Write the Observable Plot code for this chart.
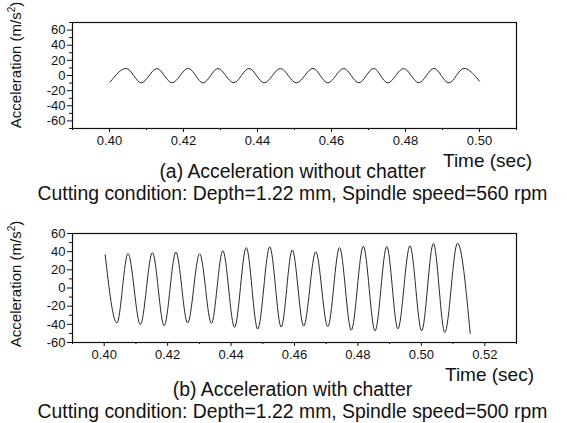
<!DOCTYPE html>
<html><head><meta charset="utf-8">
<script src="https://cdn.jsdelivr.net/npm/d3@7"></script>
<script src="https://cdn.jsdelivr.net/npm/@observablehq/plot@0.6"></script>
<style>
body{margin:0;background:#fff;}
#wrap{position:relative;width:567px;height:423px;overflow:hidden;font-family:"Liberation Sans",Arial,sans-serif;color:#111;}
#wrap svg{position:absolute;left:0;}
.t{position:absolute;white-space:nowrap;line-height:1;}
.ylab{position:absolute;white-space:nowrap;line-height:1;font-size:15px;transform:translate(-50%,-50%) rotate(-90deg);}
.ylab sup{font-size:10px;vertical-align:6px;line-height:0;}
.cap{position:absolute;left:9px;width:567px;text-align:center;font-size:19.4px;line-height:1;white-space:nowrap;}
</style></head><body><div id="wrap"></div>
<script>
// (a) Acceleration without chatter — peaks/troughs
const timeA = [0.4002,0.4045,0.4086,0.4128,0.4169,0.4213,0.4253,0.4293,0.4336,0.4377,0.4418,0.4462,0.4505,0.4550,0.4590,0.4633,0.4674,0.4714,0.4752,0.4795,0.4836,0.4877,0.4917,0.4958,0.5000];
const accelA = [-8.6,9.3,-9.7,9.2,-9.6,9.4,-9.7,9.2,-9.6,9.3,-9.7,9.2,-9.6,9.3,-9.7,9.2,-9.6,9.3,-9.7,9.2,-9.6,9.3,-9.7,9.4,-7.6];
// (b) Acceleration with chatter
const timeB = [0.4003,0.4040,0.4075,0.4114,0.4152,0.4189,0.4226,0.4263,0.4301,0.4338,0.4374,0.4411,0.4448,0.4484,0.4522,0.4558,0.4593,0.4629,0.4667,0.4705,0.4742,0.4779,0.4817,0.4854,0.4891,0.4926,0.4964,0.5001,0.5038,0.5074,0.5114,0.5154];
const accelB = [36.5,-38.5,38.0,-40.4,38.9,-41.5,39.6,-38.5,37.7,-38.9,41.1,-43.4,44.5,-45.3,45.3,-43.0,41.9,-41.9,40.0,-42.6,44.5,-46.4,46.0,-47.2,45.7,-44.9,46.4,-47.2,49.1,-49.0,49.4,-50.0];

const xTicksA = [0.40,0.42,0.44,0.46,0.48,0.50];
const xMinorA = [0.39,0.41,0.43,0.45,0.47,0.49,0.51];
const yTicksA = [-60,-40,-20,0,20,40,60];
const yMinorA = [-70,-50,-30,-10,10,30,50,70];
const xTicksB = [0.40,0.42,0.44,0.46,0.48,0.50,0.52];
const xMinorB = [0.39,0.41,0.43,0.45,0.47,0.49,0.51,0.53];
const yTicksB = [-60,-40,-20,0,20,40,60];
const yMinorB = [-50,-30,-10,10,30,50];

const texts = {
  ylab: "Acceleration (m/s",
  xlab: "Time (sec)",
  capA: "(a) Acceleration without chatter",
  condA: "Cutting condition: Depth=1.22 mm, Spindle speed=560 rpm",
  capB: "(b) Acceleration with chatter",
  condB: "Cutting condition: Depth=1.22 mm, Spindle speed=500 rpm"
};

const dataA = timeA.map((t,i)=>({t, a: accelA[i]}));
const dataB = timeB.map((t,i)=>({t, a: accelB[i]}));
const fmtX = d3.format(".2f");
const fmtY = d => String(d);

function chart(data, xDom, yDom, xT, xM, yT, yM, height, mt, mb) {
  return Plot.plot({
    width: 567, height, marginLeft: 72, marginRight: 51, marginTop: mt, marginBottom: mb,
    x: {domain: xDom}, y: {domain: yDom},
    style: {fontFamily: '"Liberation Sans", Arial, sans-serif', fontSize: "13px", color: "#111", background: "transparent"},
    marks: [
      Plot.axisX({ticks: xT, tickSize: 4, tickPadding: 3, tickFormat: fmtX, label: null}),
      Plot.axisX({ticks: xM, tickSize: 2, tickFormat: () => "", label: null}),
      Plot.axisY({ticks: yT, tickSize: 5, tickPadding: 2, tickFormat: fmtY, label: null}),
      Plot.axisY({ticks: yM, tickSize: 3, tickFormat: () => "", label: null}),
      Plot.frame({stroke: "#111", strokeWidth: 1.2}),
      Plot.line(data, {x: "t", y: "a", curve: "monotone-x", stroke: "#2a2a2a", strokeWidth: 1})
    ]
  });
}

const wrap = document.getElementById("wrap");
const svgA = chart(dataA, [0.39,0.51], [-70,70], xTicksA, xMinorA, yTicksA, yMinorA, 150, 22, 22);
svgA.style.top = "0px";
wrap.appendChild(svgA);
const svgB = chart(dataB, [0.39,0.53], [-60,60], xTicksB, xMinorB, yTicksB, yMinorB, 175, 33, 33);
svgB.style.top = "200px";
wrap.appendChild(svgB);

function add(cls, html, style) {
  const d = document.createElement("div");
  d.className = cls; d.innerHTML = html; Object.assign(d.style, style); wrap.appendChild(d);
}
add("ylab", texts.ylab + "<sup>2</sup>)", {left: "15px", top: "65px"});
add("ylab", texts.ylab + "<sup>2</sup>)", {left: "15px", top: "284px"});
add("t", texts.xlab, {left: "443px", top: "151px", fontSize: "19px"});
add("t", texts.xlab, {left: "445px", top: "365px", fontSize: "19px"});
add("cap", texts.capA, {top: "162px"});
add("cap", texts.condA, {top: "184px"});
add("cap", texts.capB, {top: "380px"});
add("cap", texts.condB, {top: "402px"});
</script></body></html>
